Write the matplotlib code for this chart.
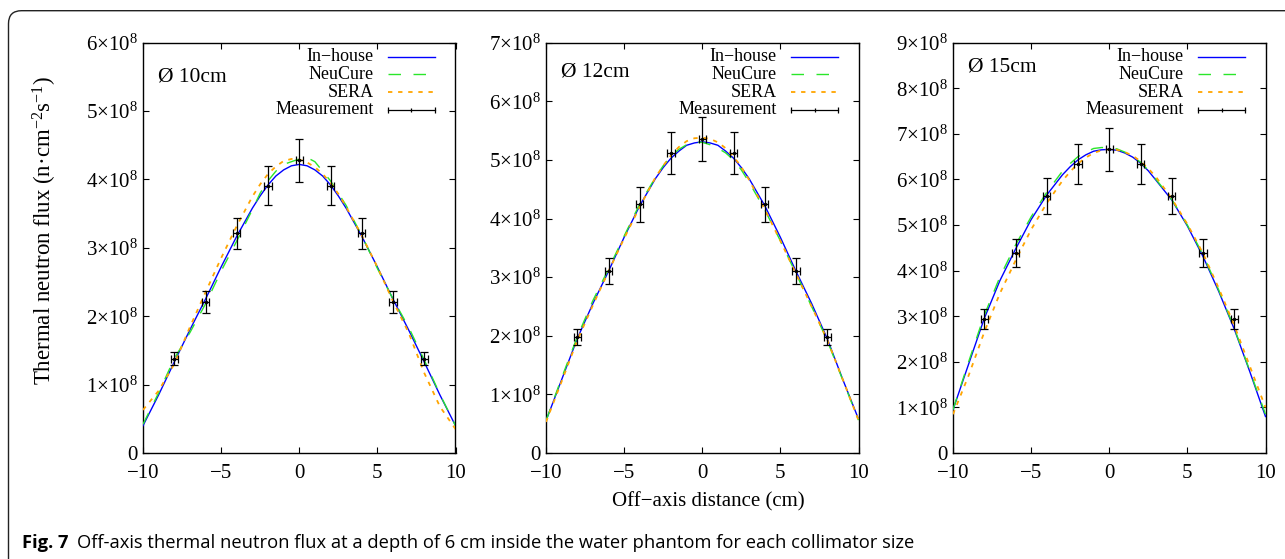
import matplotlib
matplotlib.use('Agg')
import matplotlib.pyplot as plt
from matplotlib.path import Path
from matplotlib.patches import PathPatch
from matplotlib.ticker import FixedLocator, FuncFormatter

W, H = 1285, 559
plt.rcParams['font.family'] = ['Liberation Serif', 'DejaVu Serif']
plt.rcParams['mathtext.fontset'] = 'custom'
plt.rcParams['mathtext.rm'] = 'Liberation Serif'
plt.rcParams['mathtext.it'] = 'Liberation Serif:italic'
plt.rcParams['mathtext.bf'] = 'Liberation Serif:bold'
plt.rcParams['axes.unicode_minus'] = True

# ---------------- data (flux in units of 1e8 n cm^-2 s^-1) ----------------
x_grid = [-10, -9, -8, -7, -6, -5, -4, -3, -2.5, -2, -1.5, -1, -0.5, 0,
          0.5, 1, 1.5, 2, 2.5, 3, 4, 5, 6, 7, 8, 9, 10]
x_meas = [-8, -6, -4, -2, 0, 2, 4, 6, 8]
xerr_meas = [0.23, 0.23, 0.23, 0.23, 0.23, 0.23, 0.23, 0.23, 0.23]

titles = ['Ø 10cm', 'Ø 12cm', 'Ø 15cm']
y_max = [6, 7, 9]
series_labels = ['In\u2212house', 'NeuCure', 'SERA', 'Measurement']

inhouse_10 = [0.40, 0.85, 1.33, 1.80, 2.25, 2.72, 3.17, 3.58, 3.76, 3.92, 4.05, 4.14, 4.20, 4.22,
              4.20, 4.14, 4.05, 3.92, 3.76, 3.58, 3.17, 2.72, 2.25, 1.80, 1.33, 0.85, 0.40]
neucure_10 = [0.42, 0.88, 1.38, 1.76, 2.18, 2.66, 3.10, 3.56, 3.80, 3.98, 4.12, 4.22, 4.26, 4.30,
              4.32, 4.26, 4.12, 3.98, 3.80, 3.62, 3.18, 2.70, 2.25, 1.84, 1.36, 0.86, 0.40]
sera_10 = [0.63, 0.91, 1.30, 1.84, 2.35, 2.85, 3.32, 3.75, 3.93, 4.08, 4.19, 4.27, 4.30, 4.29,
           4.25, 4.18, 4.08, 3.95, 3.79, 3.60, 3.18, 2.72, 2.22, 1.76, 1.17, 0.68, 0.35]
meas_10 = [1.38, 2.21, 3.21, 3.91, 4.28, 3.91, 3.21, 2.21, 1.38]
err_10 = [0.10, 0.16, 0.23, 0.28, 0.31, 0.28, 0.23, 0.16, 0.10]

inhouse_12 = [0.55, 1.25, 1.95, 2.55, 3.10, 3.68, 4.22, 4.68, 4.87, 5.03, 5.15, 5.25, 5.29, 5.31,
              5.29, 5.25, 5.15, 5.03, 4.87, 4.68, 4.22, 3.68, 3.10, 2.55, 1.95, 1.25, 0.58]
neucure_12 = [0.55, 1.28, 1.98, 2.60, 3.14, 3.70, 4.25, 4.70, 4.90, 5.06, 5.18, 5.26, 5.30, 5.30,
              5.26, 5.20, 5.12, 5.00, 4.83, 4.62, 4.15, 3.62, 3.06, 2.50, 1.92, 1.24, 0.56]
sera_12 = [0.53, 1.22, 1.92, 2.52, 3.10, 3.66, 4.20, 4.70, 4.90, 5.08, 5.22, 5.32, 5.37, 5.38,
           5.36, 5.30, 5.20, 5.06, 4.88, 4.66, 4.16, 3.62, 3.06, 2.50, 1.93, 1.25, 0.56]
meas_12 = [1.98, 3.11, 4.24, 5.12, 5.36, 5.12, 4.24, 3.11, 1.98]
err_12 = [0.14, 0.22, 0.30, 0.36, 0.38, 0.36, 0.30, 0.22, 0.14]

inhouse_15 = [0.95, 1.95, 2.95, 3.78, 4.47, 5.12, 5.66, 6.10, 6.28, 6.43, 6.54, 6.62, 6.65, 6.66,
              6.64, 6.58, 6.49, 6.36, 6.19, 5.98, 5.55, 4.98, 4.31, 3.55, 2.72, 1.78, 0.80]
neucure_15 = [0.95, 2.00, 3.02, 3.86, 4.56, 5.18, 5.72, 6.18, 6.35, 6.50, 6.60, 6.68, 6.70, 6.70,
              6.67, 6.60, 6.50, 6.38, 6.20, 6.00, 5.56, 5.00, 4.35, 3.58, 2.74, 1.80, 0.85]
sera_15 = [0.85, 1.70, 2.65, 3.50, 4.22, 4.90, 5.48, 5.97, 6.17, 6.35, 6.48, 6.58, 6.64, 6.66,
           6.65, 6.60, 6.52, 6.40, 6.24, 6.05, 5.58, 5.02, 4.38, 3.62, 2.80, 1.90, 1.00]
meas_15 = [2.94, 4.39, 5.64, 6.33, 6.66, 6.33, 5.64, 4.39, 2.94]
err_15 = [0.21, 0.31, 0.39, 0.44, 0.47, 0.44, 0.39, 0.31, 0.21]

x_ticks = [-10, -5, 0, 5, 10]
y_label = 'Thermal neutron flux (n\u00b7cm$^{\\mathregular{\u22122}}$s$^{\\mathregular{\u22121}}$)'
x_label = 'Off\u2212axis distance (cm)'
caption_bold = 'Fig. 7'
caption_text = 'Off-axis thermal neutron flux at a depth of 6 cm inside the water phantom for each collimator size'

panels = [
    (inhouse_10, neucure_10, sera_10, meas_10, err_10),
    (inhouse_12, neucure_12, sera_12, meas_12, err_12),
    (inhouse_15, neucure_15, sera_15, meas_15, err_15),
]

# ---------------- layout ----------------
fig = plt.figure(figsize=(W / 100, H / 100), dpi=100)
ax_left_px = [143, 546, 953]
ax_w_px = 312.5
ax_top_px, ax_bot_px = 42.7, 453
ax_h_px = ax_bot_px - ax_top_px
title_dy = [34, 29, 24]

C_IN = '#0000ff'
C_NEU = '#2ae62a'
C_SERA = '#ffa500'


def fmt_y(v, pos):
    k = int(round(v))
    if k == 0:
        return '0'
    return r'$%d{\times}10^{8}$' % k


for i, (inh, neu, sera, meas, err) in enumerate(panels):
    ax = fig.add_axes([ax_left_px[i] / W, (H - ax_bot_px) / H,
                       ax_w_px / W, ax_h_px / H])
    ax.plot(x_grid, inh, color=C_IN, lw=1.0, zorder=3)
    ax.plot(x_grid, neu, color=C_NEU, lw=1.0, dashes=(9, 9), zorder=4)
    ax.plot(x_grid, sera, color=C_SERA, lw=1.3, dashes=(2.4, 3.2), zorder=5)
    ax.errorbar(x_meas, meas, yerr=err, xerr=xerr_meas, fmt='.', color='black',
                ms=3, elinewidth=0.9, capsize=3, capthick=0.9, zorder=6)
    ax.set_xlim(-10, 10)
    ax.set_ylim(0, y_max[i])
    ax.xaxis.set_major_locator(FixedLocator(x_ticks))
    ax.yaxis.set_major_locator(FixedLocator(list(range(0, y_max[i] + 1))))
    ax.yaxis.set_major_formatter(FuncFormatter(fmt_y))
    ax.tick_params(direction='in', top=True, right=True, length=4.5, width=0.8,
                   labelsize=15)
    ax.tick_params(axis='x', pad=8)
    ax.tick_params(axis='y', pad=4)
    for sp in ax.spines.values():
        sp.set_linewidth(1.0)

    ax.text(15 / ax_w_px, 1 - title_dy[i] / ax_h_px, titles[i], transform=ax.transAxes,
            fontsize=15.5, ha='left', va='center')

    # key (gnuplot style: label right-aligned, sample on the right)
    tx = 231 / ax_w_px
    hx0, hx1 = 245 / ax_w_px, 292 / ax_w_px
    rows = [1 - (14 + 17.7 * r) / ax_h_px for r in range(4)]
    for r, lab in enumerate(series_labels):
        ax.text(tx, rows[r], lab, transform=ax.transAxes, fontsize=13,
                ha='right', va='center')
    ax.plot([hx0, hx1], [rows[0]] * 2, color=C_IN, lw=1.0, transform=ax.transAxes, clip_on=False)
    ax.plot([hx0, hx1], [rows[1]] * 2, color=C_NEU, lw=1.0, dashes=(9, 9), transform=ax.transAxes, clip_on=False)
    ax.plot([hx0, hx1], [rows[2]] * 2, color=C_SERA, lw=1.3, dashes=(2.4, 3.2), transform=ax.transAxes, clip_on=False)
    ax.plot([hx0, hx1], [rows[3]] * 2, color='black', lw=0.9, marker='|', ms=5, mew=0.9,
            transform=ax.transAxes, clip_on=False)
    ax.plot([(hx0 + hx1) / 2], [rows[3]], color='black', marker='|', ms=3, mew=0.9,
            transform=ax.transAxes, clip_on=False)

fig.text(45 / W, 1 - 230 / H, y_label, rotation=90, ha='center', va='center', fontsize=16.5)
fig.text(612 / W, 1 - 502 / H, x_label, ha='left', va='center', fontsize=15)

# frame (top + left with rounded corner)
r = 13.0
xl, yt = 8.5, H - 10.7
verts = [(xl, -5), (xl, yt - r), (xl, yt), (xl + r, yt), (W + 5, yt)]
codes = [Path.MOVETO, Path.LINETO, Path.CURVE3, Path.CURVE3, Path.LINETO]
verts = [(vx / W, vy / H) for vx, vy in verts]
fig.patches.append(PathPatch(Path(verts, codes), transform=fig.transFigure, fill=False,
                             edgecolor='#222222', lw=1.0))

# caption
cap_y = 1 - 543 / H
cap_x0, cap_x1 = 22, 913
fs = 11
gap_em = 0.45
t1 = fig.text(cap_x0 / W, cap_y, caption_bold, fontsize=fs, fontweight='bold',
              family='Open Sans', ha='left', va='center')
t2 = fig.text(0, cap_y, caption_text, fontsize=fs, family='Open Sans', ha='left', va='center')
renderer = fig.canvas.get_renderer()
w1 = t1.get_window_extent(renderer).width
w2 = t2.get_window_extent(renderer).width
gap = gap_em * fs * 100 / 72
scale = (cap_x1 - cap_x0) / (w1 + w2 + gap)
fs2 = fs * scale
t1.set_fontsize(fs2)
t2.set_fontsize(fs2)
w1 = t1.get_window_extent(renderer).width
t2.set_x((cap_x0 + w1 + gap_em * fs2 * 100 / 72) / W)

fig.savefig('out.png', dpi=100)
